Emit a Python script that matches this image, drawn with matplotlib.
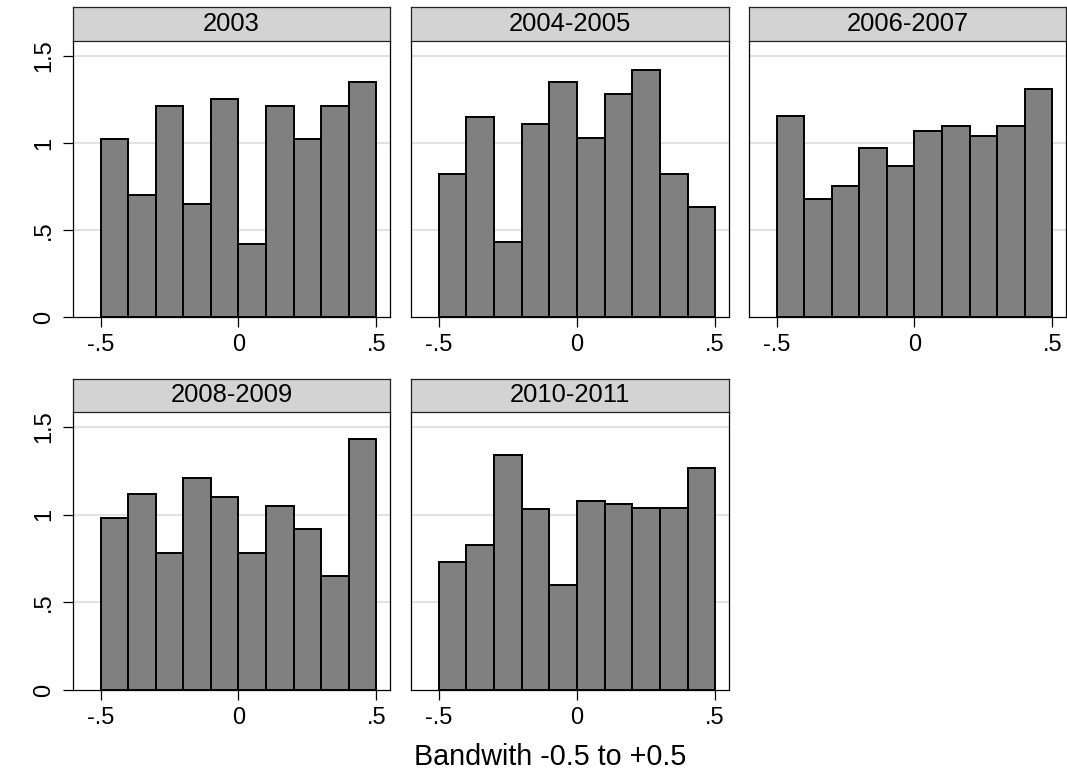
import matplotlib
matplotlib.use("Agg")
import matplotlib.pyplot as plt
import numpy as np

plt.rcParams['font.family'] = ['Liberation Sans', 'DejaVu Sans']

panel_titles = ["2003", "2004-2005", "2006-2007", "2008-2009", "2010-2011"]
bin_edges = [-0.5, -0.4, -0.3, -0.2, -0.1, 0.0, 0.1, 0.2, 0.3, 0.4, 0.5]
dens_2003 = [1.02, 0.70, 1.21, 0.65, 1.25, 0.42, 1.21, 1.02, 1.21, 1.35]
dens_2004_2005 = [0.82, 1.15, 0.43, 1.11, 1.35, 1.03, 1.28, 1.42, 0.82, 0.63]
dens_2006_2007 = [1.155, 0.68, 0.75, 0.97, 0.87, 1.07, 1.10, 1.04, 1.10, 1.31]
dens_2008_2009 = [0.98, 1.12, 0.78, 1.21, 1.10, 0.78, 1.05, 0.92, 0.65, 1.43]
dens_2010_2011 = [0.73, 0.83, 1.34, 1.03, 0.60, 1.08, 1.06, 1.04, 1.04, 1.265]
all_dens = [dens_2003, dens_2004_2005, dens_2006_2007, dens_2008_2009, dens_2010_2011]

xticks = [-0.5, 0, 0.5]
xticklabels = ["-.5", "0", ".5"]
yticks = [0, 0.5, 1, 1.5]
yticklabels = ["0", ".5", "1", "1.5"]

W, H = 1067, 774
fig = plt.figure(figsize=(W / 100, H / 100), dpi=100)

col_lr = [(73, 390), (411, 729), (749, 1066)]
row_tb = [(7, 41, 317), (379, 412, 690)]  # strip top, plot top, plot bottom


def fx(px):
    return px / W


def fy(py):
    return 1 - py / H


positions = [(0, 0), (0, 1), (0, 2), (1, 0), (1, 1)]
for (r, c), title, dens in zip(positions, panel_titles, all_dens):
    l, rr = col_lr[c]
    st, pt, pb = row_tb[r]
    ax = fig.add_axes([fx(l), fy(pb), fx(rr - l), (pb - pt) / H])
    edges = np.array(bin_edges)
    ax.bar(edges[:-1], dens, width=np.diff(edges), align='edge',
           color='#808080', edgecolor='black', linewidth=1.4, zorder=3)
    ax.set_xlim(-0.6, 0.55)
    ax.set_ylim(0, 1.586)
    for yv in [0.5, 1.0, 1.5]:
        ax.axhline(yv, color='#e2e2e2', lw=1.5, zorder=1)
    ax.set_xticks(xticks)
    ax.set_xticklabels(xticklabels, fontsize=17)
    ax.tick_params(axis='x', length=7, width=0.9, pad=5, color='black')
    if c == 0:
        ax.set_yticks(yticks)
        ax.set_yticklabels(yticklabels, fontsize=17, rotation=90, va='center')
        ax.tick_params(axis='y', length=7, width=0.9, pad=6)
    else:
        ax.set_yticks([])
    for s in ['left', 'right', 'bottom']:
        ax.spines[s].set_linewidth(0.9)
        ax.spines[s].set_color('black')
    ax.spines['top'].set_visible(False)

    sax = fig.add_axes([fx(l), fy(pt), fx(rr - l), (pt - st) / H])
    sax.set_facecolor('#d3d3d3')
    sax.set_xticks([])
    sax.set_yticks([])
    for s in sax.spines.values():
        s.set_linewidth(0.9)
        s.set_color('#222222')
    sax.text(0.5, 0.5, title, ha='center', va='center', fontsize=18.4,
             transform=sax.transAxes)

fig.text(fx(550), fy(765), "Bandwith -0.5 to +0.5", ha='center', va='baseline',
         fontsize=20.7)

fig.savefig("out.png", dpi=100, facecolor='white')
